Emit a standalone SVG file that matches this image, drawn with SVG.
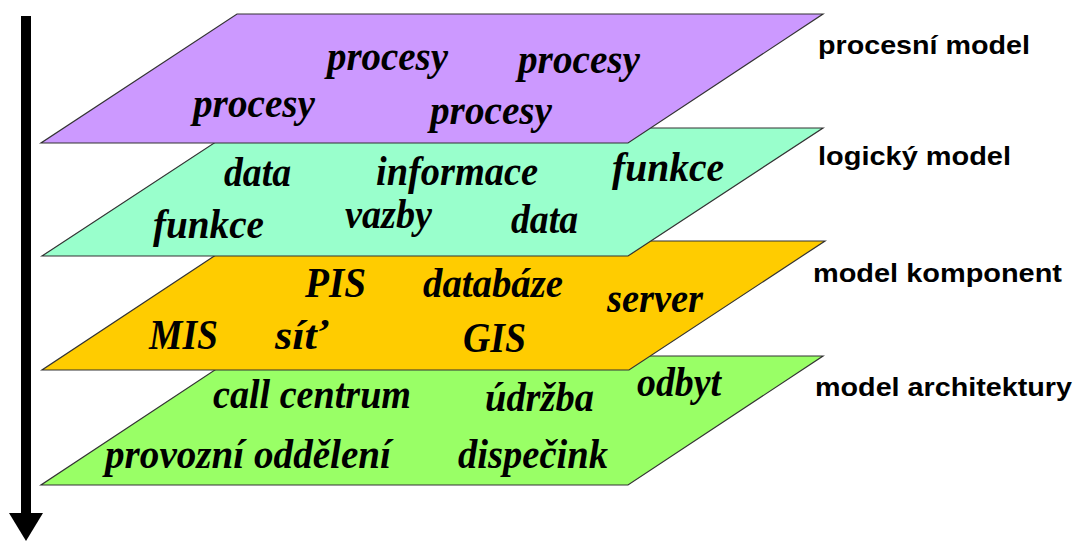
<svg xmlns="http://www.w3.org/2000/svg" width="1075" height="542" viewBox="0 0 1075 542">
<style>
.plane{stroke:#333;stroke-width:1.2;stroke-linejoin:miter}
.it{font-family:"Liberation Serif","Times New Roman",serif;font-weight:bold;font-style:italic;font-size:42px;fill:#000}
.lab{font-family:"Liberation Sans",Arial,sans-serif;font-weight:bold;font-size:26px;fill:#000}
</style>
<rect width="1075" height="542" fill="#fff"/>
<g id="connectors">
<rect x="21" y="16" width="10" height="498" fill="#000"/>
<polygon points="9,513 43,513 26,541" fill="#000"/>
</g>
<g id="layer-architektura">
<polygon class="plane" points="236,356 823,356 628,485 41,485" fill="#99FF66"/>
<text class="it" x="213" y="408" textLength="198" lengthAdjust="spacingAndGlyphs">call centrum</text>
<text class="it" x="485" y="411" textLength="109" lengthAdjust="spacingAndGlyphs">údržba</text>
<text class="it" x="637" y="396" textLength="84" lengthAdjust="spacingAndGlyphs">odbyt</text>
<text class="it" x="105" y="468" textLength="286" lengthAdjust="spacingAndGlyphs">provozní oddělení</text>
<text class="it" x="458" y="468" textLength="150" lengthAdjust="spacingAndGlyphs">dispečink</text>
</g>
<g id="layer-komponent">
<polygon class="plane" points="237,241 825,241 629,370 42,370" fill="#FFCC00"/>
<text class="it" x="305" y="297" textLength="61" lengthAdjust="spacingAndGlyphs">PIS</text>
<text class="it" x="423" y="297" textLength="140" lengthAdjust="spacingAndGlyphs">databáze</text>
<text class="it" x="607" y="312" textLength="96" lengthAdjust="spacingAndGlyphs">server</text>
<text class="it" x="149" y="349" textLength="69" lengthAdjust="spacingAndGlyphs">MIS</text>
<text class="it" x="275" y="349" textLength="53" lengthAdjust="spacingAndGlyphs">síť</text>
<text class="it" x="463" y="352" textLength="63" lengthAdjust="spacingAndGlyphs">GIS</text>
</g>
<g id="layer-logicky">
<polygon class="plane" points="237,128 823,128 628,256 42,256" fill="#99FFCC"/>
<text class="it" x="224" y="186" textLength="67" lengthAdjust="spacingAndGlyphs">data</text>
<text class="it" x="376" y="185" textLength="162" lengthAdjust="spacingAndGlyphs">informace</text>
<text class="it" x="612" y="181" textLength="112" lengthAdjust="spacingAndGlyphs">funkce</text>
<text class="it" x="153" y="238" textLength="111" lengthAdjust="spacingAndGlyphs">funkce</text>
<text class="it" x="345" y="228" textLength="87" lengthAdjust="spacingAndGlyphs">vazby</text>
<text class="it" x="511" y="233" textLength="67" lengthAdjust="spacingAndGlyphs">data</text>
</g>
<g id="layer-procesni">
<polygon class="plane" points="237,14 823,14 628,143 41,143" fill="#CC99FF"/>
<text class="it" x="327" y="70" textLength="121" lengthAdjust="spacingAndGlyphs">procesy</text>
<text class="it" x="518" y="73" textLength="122" lengthAdjust="spacingAndGlyphs">procesy</text>
<text class="it" x="193" y="117" textLength="122" lengthAdjust="spacingAndGlyphs">procesy</text>
<text class="it" x="430" y="124" textLength="122" lengthAdjust="spacingAndGlyphs">procesy</text>
</g>
<g id="labels">
<text class="lab" x="818" y="54" textLength="212" lengthAdjust="spacingAndGlyphs">procesní model</text>
<text class="lab" x="818" y="165" textLength="193" lengthAdjust="spacingAndGlyphs">logický model</text>
<text class="lab" x="813" y="282" textLength="249" lengthAdjust="spacingAndGlyphs">model komponent</text>
<text class="lab" x="815" y="396" textLength="257" lengthAdjust="spacingAndGlyphs">model architektury</text>
</g>
</svg>
